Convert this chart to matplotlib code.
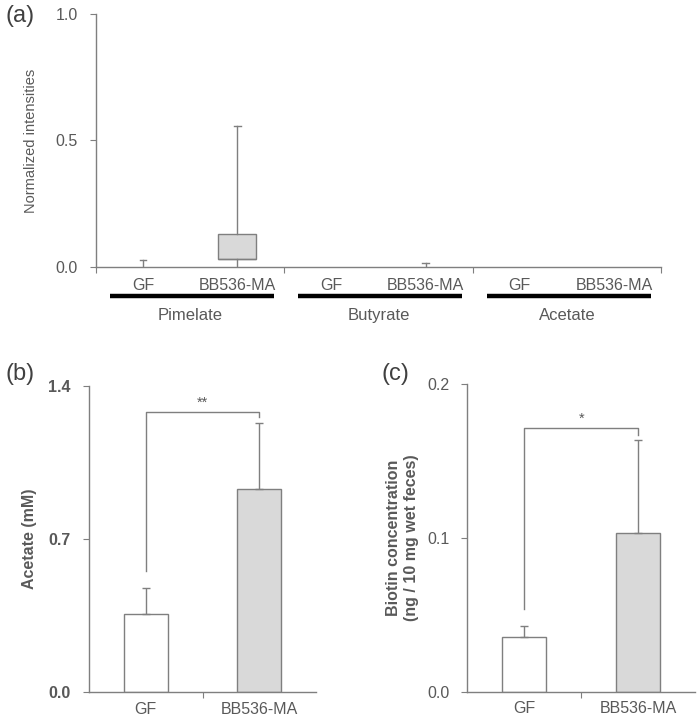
import matplotlib
matplotlib.use('Agg')
import matplotlib.pyplot as plt
from matplotlib.transforms import blended_transform_factory

plt.rcParams['font.family'] = ['Liberation Sans', 'DejaVu Sans']

TXT = '#595959'
EDGE = '#7f7f7f'
GREY = '#d9d9d9'

# (a) normalized intensities, box plot stats
groups = ['Pimelate', 'Butyrate', 'Acetate']
conds = ['GF', 'BB536-MA']
box_q1 = [0.0, 0.032, 0.0, 0.0, 0.0, 0.0]
box_q3 = [0.0, 0.130, 0.0, 0.0, 0.0, 0.0]
box_lo = [0.0, 0.0, 0.0, 0.0, 0.0, 0.0]
box_hi = [0.027, 0.557, 0.0, 0.017, 0.0, 0.0]

# (b) acetate
acetate_mean = [0.357, 0.930]
acetate_sd = [0.120, 0.299]

# (c) biotin
biotin_mean = [0.0357, 0.1033]
biotin_sd = [0.0072, 0.0605]


def style_axes(ax):
    for s in ['top', 'right']:
        ax.spines[s].set_visible(False)
    for s in ['left', 'bottom']:
        ax.spines[s].set_color(EDGE)
        ax.spines[s].set_linewidth(1.0)
        ax.spines[s].set_zorder(5)
    ax.tick_params(axis='both', which='major', direction='out', length=4,
                   color=EDGE, labelcolor=TXT, labelsize=11.5)
    ax.tick_params(axis='y', pad=9)


fig = plt.figure(figsize=(6.97, 7.16), dpi=100)

# ---------- panel (a) ----------
ax = fig.add_axes([0.1377, 0.6271, 0.8107, 0.3534])
style_axes(ax)
pos = []
for i in range(len(groups)):
    pos += [i + 0.25, i + 0.75]
stats = []
for k in range(len(pos)):
    stats.append({'q1': box_q1[k], 'q3': box_q3[k], 'med': box_q1[k],
                  'whislo': box_lo[k], 'whishi': box_hi[k], 'fliers': []})
art = ax.bxp(stats, positions=pos, widths=0.2, patch_artist=True, showfliers=False,
             boxprops=dict(facecolor=GREY, edgecolor=EDGE, linewidth=1.0),
             whiskerprops=dict(color=EDGE, linewidth=1.0),
             capprops=dict(color=EDGE, linewidth=1.0),
             medianprops=dict(color=EDGE, linewidth=1.0), capwidths=0.035)
# flat boxes/caps that sit on the axis are hidden
for k in range(len(pos)):
    if box_q3[k] == box_q1[k]:
        art['boxes'][k].set_visible(False)
        art['medians'][k].set_visible(False)
    if box_hi[k] == box_q3[k]:
        art['caps'][2 * k + 1].set_visible(False)
    art['caps'][2 * k].set_visible(False)
ax.set_xlim(0, 3)
ax.set_ylim(0, 1.0)
ax.set_yticks([0.0, 0.5, 1.0])
ax.set_yticklabels(['0.0', '0.5', '1.0'])
ax.set_xticks([0, 1, 2, 3])
ax.set_xticklabels([])
ax.set_xticks(pos, minor=True)
ax.set_xticklabels(conds * 3, minor=True)
ax.tick_params(axis='x', which='minor', length=0, labelsize=11.5, labelcolor=TXT, pad=8)
ax.set_ylabel('Normalized intensities', color=TXT, fontsize=10.5, labelpad=13)
tr = blended_transform_factory(ax.transData, ax.transAxes)
for i, g in enumerate(groups):
    ax.plot([i + 0.075, i + 0.945], [-0.115, -0.115], color='black', lw=3.2,
            transform=tr, clip_on=False, solid_capstyle='butt')
    ax.text(i + 0.5, -0.19, g, transform=tr, ha='center', va='center',
            color=TXT, fontsize=12)
fig.text(0.008, 0.977, '(a)', fontsize=17, color='#404040', va='center')


def bar_panel(rect, means, sds, ylim, yticks, ylabel, sig, bracket, label, lab_xy,
              tickbold, lpad):
    ax = fig.add_axes(rect)
    style_axes(ax)
    x = [0, 1]
    ax.bar(x, means, width=0.39, color=['white', GREY], edgecolor=EDGE, linewidth=1.0,
           yerr=[[0, 0], sds], error_kw=dict(ecolor=EDGE, elinewidth=1.0, capsize=3, capthick=1.0))
    ax.set_xlim(-0.5, 1.5)
    ax.set_ylim(0, ylim)
    ax.set_yticks(yticks)
    ax.set_yticklabels(['%.1f' % v for v in yticks],
                       fontweight='bold' if tickbold else 'normal')
    ax.set_xticks([0.5])
    ax.set_xticklabels([])
    ax.set_xticks(x, minor=True)
    ax.set_xticklabels(conds, minor=True)
    ax.tick_params(axis='x', which='minor', length=0, labelsize=11.5, labelcolor=TXT, pad=7)
    ax.set_ylabel(ylabel, color=TXT, fontsize=11.5, fontweight='bold', labelpad=lpad)
    left_bot, top, right_bot = bracket
    ax.plot([0, 0, 1, 1], [left_bot, top, top, right_bot], color=EDGE, lw=1.0, clip_on=False)
    ax.text(0.5, top + ylim * 0.03, sig, ha='center', va='center', color=TXT, fontsize=10.5)
    fig.text(lab_xy[0], lab_xy[1], label, fontsize=17, color='#404040', va='center')
    return ax


bar_panel([0.1277, 0.0335, 0.3257, 0.4274], acetate_mean, acetate_sd, 1.4,
          [0.0, 0.7, 1.4], 'Acetate (mM)', '**', (0.555, 1.28, 1.257),
          '(b)', (0.008, 0.477), True, 8)
bar_panel([0.6705, 0.0339, 0.3267, 0.4297], biotin_mean, biotin_sd, 0.2,
          [0.0, 0.1, 0.2], 'Biotin concentration\n(ng / 10 mg wet feces)', '*',
          (0.0536, 0.1716, 0.1669), '(c)', (0.548, 0.477), False, 6)

fig.savefig('out.png', dpi=100)
